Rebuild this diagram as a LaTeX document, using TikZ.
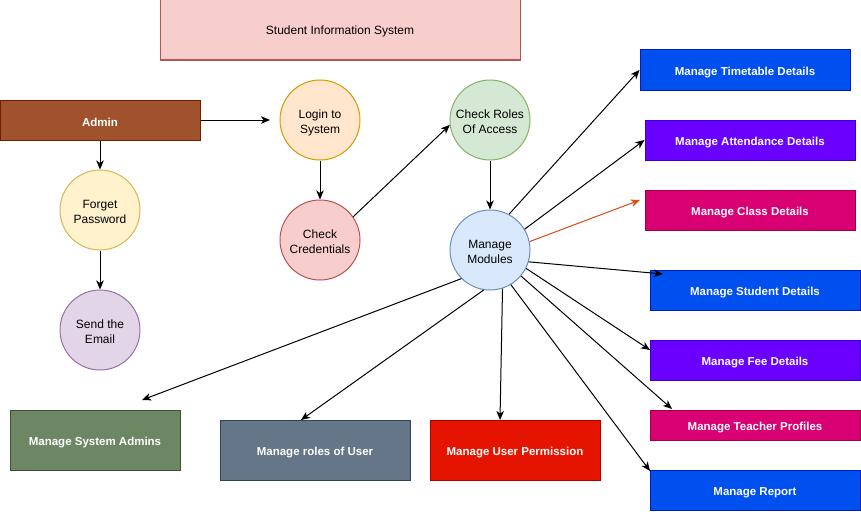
\documentclass[tikz,border=0pt]{standalone}
\usepackage{fontspec}
\setmainfont{Liberation Sans}
\usetikzlibrary{arrows.meta,calc}
\definecolor{titlef}{HTML}{F8CECC}\definecolor{titled}{HTML}{B85450}
\definecolor{adminf}{HTML}{A0522D}\definecolor{admind}{HTML}{6D1F00}
\definecolor{loginf}{HTML}{FFE6CC}\definecolor{logind}{HTML}{D79B00}
\definecolor{rolesf}{HTML}{D5E8D4}\definecolor{rolesd}{HTML}{82B366}
\definecolor{credf}{HTML}{F8CECC}\definecolor{credd}{HTML}{B85450}
\definecolor{forgf}{HTML}{FFF2CC}\definecolor{forgd}{HTML}{D6B656}
\definecolor{sendf}{HTML}{E1D5E7}\definecolor{sendd}{HTML}{9673A6}
\definecolor{modf}{HTML}{DAE8FC}\definecolor{modd}{HTML}{6C8EBF}
\definecolor{bluef}{HTML}{0050EF}\definecolor{blued}{HTML}{001DBC}
\definecolor{violf}{HTML}{6A00FF}\definecolor{viold}{HTML}{3700CC}
\definecolor{magf}{HTML}{D80073}\definecolor{magd}{HTML}{A50040}
\definecolor{redf}{HTML}{E51400}\definecolor{redd}{HTML}{B20000}
\definecolor{slatef}{HTML}{647687}\definecolor{slated}{HTML}{314354}
\definecolor{greenf}{HTML}{6D8764}\definecolor{greend}{HTML}{3A5431}
\definecolor{orangeline}{HTML}{D9501A}
\newcommand\twoline[2]{\raisebox{-2.5pt}[\height][\depth]{\begin{tabular}{@{}c@{}}#1\\#2\end{tabular}}}
\tikzset{
  lowtext/.style={align=center, execute at begin node={\rule{0pt}{#1}}},
  box/.style={draw, line width=1pt, minimum width=#1, inner sep=0pt, font=\fontsize{11.5}{14}\selectfont\bfseries, text=white, lowtext=12.6pt},
  circ/.style={circle, draw, line width=1pt, minimum size=80pt, inner sep=0pt, font=\fontsize{12}{15}\selectfont},
  conn/.style={line width=1pt, -{Stealth[length=9pt,width=7.5pt,inset=2.5pt]}},
}
\begin{document}
\begin{tikzpicture}[x=1pt,y=-1pt]
\useasboundingbox (0,0) rectangle (861,511);
% title
\node[draw=titled, fill=titlef, line width=1pt, minimum width=360pt, minimum height=60pt, inner sep=0pt, font=\fontsize{12}{14}\selectfont, lowtext=12.4pt] (title) at (340,30) {Student Information System};
% left chain
\node[box=200pt, minimum height=40pt, fill=adminf, draw=admind] (admin) at (100,120) {Admin};
\node[circ, fill=forgf, draw=forgd] (forget) at (100,210) {\twoline{Forget}{Password}};
\node[circ, fill=sendf, draw=sendd] (send) at (100,330) {\twoline{Send the}{Email}};
\node[circ, fill=loginf, draw=logind] (login) at (320,120) {\twoline{Login to}{System}};
\node[circ, fill=credf, draw=credd] (cred) at (320,240) {\twoline{Check}{Credentials}};
\node[circ, fill=rolesf, draw=rolesd] (roles) at (490,120) {\twoline{Check Roles}{Of Access}};
\node[circ, fill=modf, draw=modd] (mm) at (490,250) {\twoline{Manage}{Modules}};
% right boxes
\node[box=210pt, minimum height=40pt, fill=bluef, draw=blued] (tt) at (745,70) {Manage Timetable Details};
\node[box=210pt, minimum height=40pt, fill=violf, draw=viold] (att) at (750,140) {Manage Attendance Details};
\node[box=210pt, minimum height=40pt, fill=magf, draw=magd] (cls) at (750,210) {Manage Class Details};
\node[box=210pt, minimum height=40pt, fill=bluef, draw=blued] (stu) at (755,290) {Manage Student Details};
\node[box=210pt, minimum height=40pt, fill=violf, draw=viold] (fee) at (755,360) {Manage Fee Details};
\node[box=210pt, minimum height=30pt, fill=magf, draw=magd] (tea) at (755,425) {Manage Teacher Profiles};
\node[box=210pt, minimum height=40pt, fill=bluef, draw=blued] (rep) at (755,490) {Manage Report};
% bottom boxes
\node[box=170pt, minimum height=60pt, fill=greenf, draw=greend] (sysad) at (95,440) {Manage System Admins};
\node[box=190pt, minimum height=60pt, fill=slatef, draw=slated] (rolu) at (315,450) {Manage roles of User};
\node[box=170pt, minimum height=60pt, fill=redf, draw=redd] (perm) at (515,450) {Manage User Permission};
% free ends
\coordinate (loginend) at (270,120);
\coordinate (clsend) at (640,200);
\coordinate (stuend) at (663,274);
\coordinate (feeend) at (650,350);
\coordinate (teaend) at (672,409);
\coordinate (repend) at (650,471);
\coordinate (permend) at (500,420);
\coordinate (roluend) at (301,420);
\coordinate (sysend) at (142,400);
% connectors
\draw[conn] (admin.east) -- (loginend);
\draw[conn] (admin.south) -- (forget.north);
\draw[conn] (forget.south) -- (send.north);
\draw[conn] (login.south) -- (cred.north);
\draw[conn] (cred.35) -- (roles.187);
\draw[conn] (roles.south) -- (mm.north);
\draw[conn] (mm.62) -- (tt.west);
\draw[conn] (mm.31) -- (att.west);
\draw[conn, draw=orangeline, fill=orangeline] (mm.12) -- (clsend);
\draw[conn] (mm.-17) -- (stuend);
\draw[conn] (mm.-27) -- (feeend);
\draw[conn] (mm.-40) -- (teaend);
\draw[conn] (mm.-59) -- (repend);
\draw[conn] (mm.-72) -- (permend);
\draw[conn] (mm.-99) -- (roluend);
\draw[conn] (mm.-135) -- (sysend);
\end{tikzpicture}
\end{document}
